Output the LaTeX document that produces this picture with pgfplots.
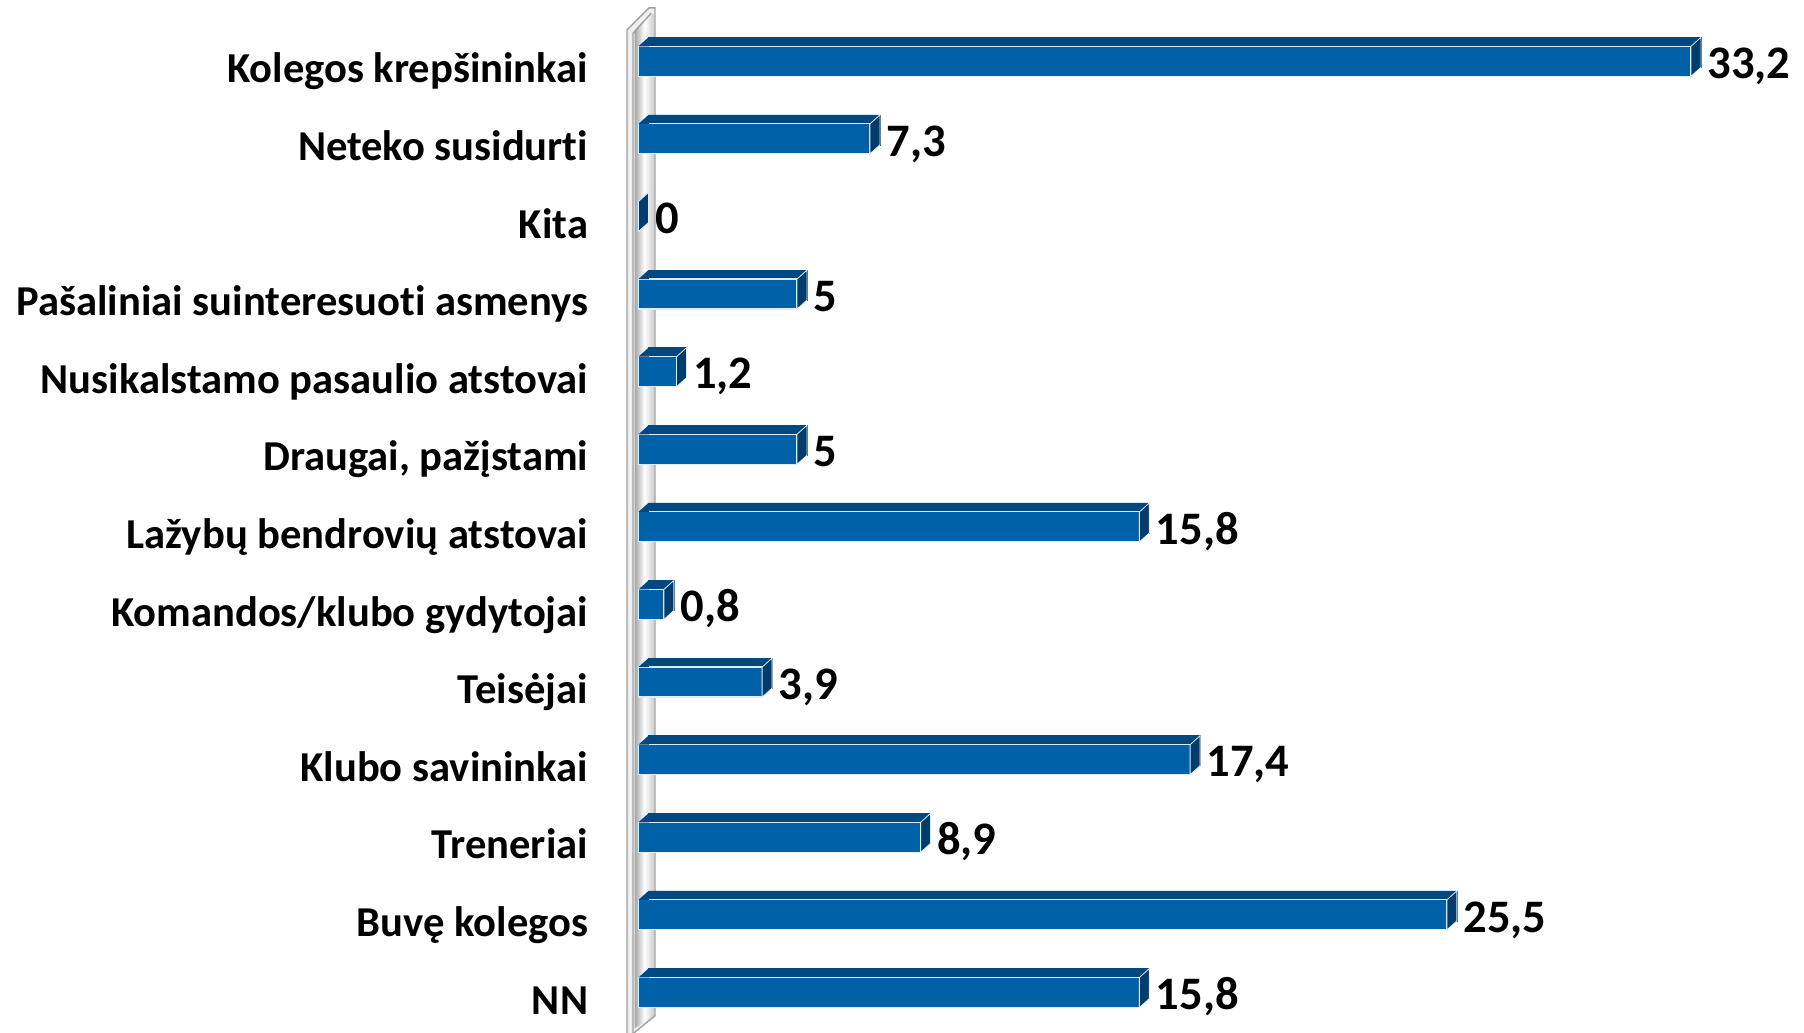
\documentclass[border=0pt]{standalone}
\usepackage{fontspec}
\setmainfont{Carlito}[Ligatures={NoCommon}]
\usepackage{pgfplots}
\pgfplotsset{compat=1.18}
\definecolor{barfront}{RGB}{0,96,168}
\definecolor{bartop}{RGB}{0,72,128}
\definecolor{barside}{RGB}{0,60,108}
\definecolor{edgecol}{RGB}{225,235,245}
\definecolor{wallline}{RGB}{160,160,160}

\pgfdeclareplotmark{sideface}{%
 \pgfpathmoveto{\pgfqpoint{0pt}{-7.5pt}}%
 \pgfpathlineto{\pgfqpoint{0pt}{7.5pt}}%
 \pgfpathlineto{\pgfqpoint{5pt}{12pt}}%
 \pgfpathlineto{\pgfqpoint{5pt}{-3pt}}%
 \pgfpathclose\pgfusepathqfillstroke}
\pgfdeclareplotmark{topcorner}{%
 \pgfpathmoveto{\pgfqpoint{0pt}{7.5pt}}%
 \pgfpathlineto{\pgfqpoint{5pt}{12pt}}%
 \pgfpathlineto{\pgfqpoint{5.2pt}{7.5pt}}%
 \pgfpathclose\pgfusepathqfill}

\begin{document}
\begin{tikzpicture}
\begin{axis}[
  scale only axis,
  width=526.25pt, height=504.4pt,
  xmin=0, xmax=33.2, ymin=-0.5, ymax=12.5,
  clip=false,
  axis x line=none,
  axis y line*=left,
  y axis line style={draw=none},
  major tick length=0pt,
  ytick={0,...,12},
  yticklabels={NN, Buvę kolegos, Treneriai, Klubo savininkai, Teisėjai, Komandos/klubo gydytojai, Lažybų bendrovių atstovai, {Draugai, pažįstami}, Nusikalstamo pasaulio atstovai, Pašaliniai suinteresuoti asmenys, Kita, Neteko susidurti, Kolegos krepšininkai},
  yticklabel style={font=\fontsize{21.3pt}{25pt}\selectfont\bfseries, anchor=base east, inner sep=0pt, xshift=-25pt, yshift=-10.8pt},
]
% wall
\fill[gray!12] (axis cs:-0.362,-0.530) -- (axis cs:-0.362,12.406) -- (axis cs:0.331,12.689) -- (axis cs:0.520,12.689)
  -- (axis cs:0.520,-0.300) -- (axis cs:-0.173,-0.530) -- cycle;
\shade[left color=gray!70, right color=gray!40, middle color=white]
  (axis cs:-0.12,-0.46) -- (axis cs:-0.12,12.40) -- (axis cs:0.33,12.61) -- (axis cs:0.49,12.61) -- (axis cs:0.49,-0.31) -- cycle;
\draw[wallline, line width=0.7pt]
  (axis cs:-0.362,-0.530) -- (axis cs:-0.362,12.406) -- (axis cs:0.331,12.689) -- (axis cs:0.520,12.689)
  -- (axis cs:0.520,-0.300) -- (axis cs:-0.173,-0.530);
\draw[wallline, line width=0.7pt] (axis cs:-0.173,-0.530) -- (axis cs:-0.173,12.36) -- (axis cs:0.40,12.62);
\coordinate (O) at (axis cs:0,-0.5);

% top faces (shifted bars)
\addplot[xbar, bar width=15pt, fill=bartop, draw=bartop, line width=0.3pt, xshift=5pt, yshift=4.5pt]
 coordinates {(15.8,0) (25.5,1) (8.9,2) (17.4,3) (3.9,4) (0.8,5) (15.8,6) (5,7) (1.2,8) (5,9) (0,10) (7.3,11) (33.2,12)};
% front faces
\addplot[xbar, bar width=15pt, fill=barfront, draw=edgecol, line width=0.6pt,
  point meta=explicit symbolic,
  nodes near coords,
  every node near coord/.append style={font=\fontsize{23.3pt}{27pt}\selectfont\bfseries, color=black, anchor=base west, inner sep=0pt, xshift=8pt, yshift=-8.6pt}]
 coordinates {(15.8,0) [15,8] (25.5,1) [25,5] (8.9,2) [8,9] (17.4,3) [17,4] (3.9,4) [3,9] (0.8,5) [0,8] (15.8,6) [15,8] (5,7) [5] (1.2,8) [1,2] (5,9) [5] (0,10) [0] (7.3,11) [7,3] (33.2,12) [33,2]};
% side faces
\addplot[only marks, mark=sideface, mark options={fill=barside, draw=edgecol, line width=0.4pt}]
 coordinates {(15.8,0) (25.5,1) (8.9,2) (17.4,3) (3.9,4) (0.8,5) (15.8,6) (5,7) (1.2,8) (5,9) (0,10) (7.3,11) (33.2,12)};
% top-left corners of the top faces
\addplot[only marks, mark=topcorner, mark options={fill=bartop, draw=none}]
 coordinates {(0,0) (0,1) (0,2) (0,3) (0,4) (0,5) (0,6) (0,7) (0,8) (0,9) (0,11) (0,12)};
\end{axis}
\pgfresetboundingbox
\path[shift={(O)}] (-319.25pt,-0.85pt) rectangle (582.75pt,515.65pt);
\end{tikzpicture}
\end{document}
